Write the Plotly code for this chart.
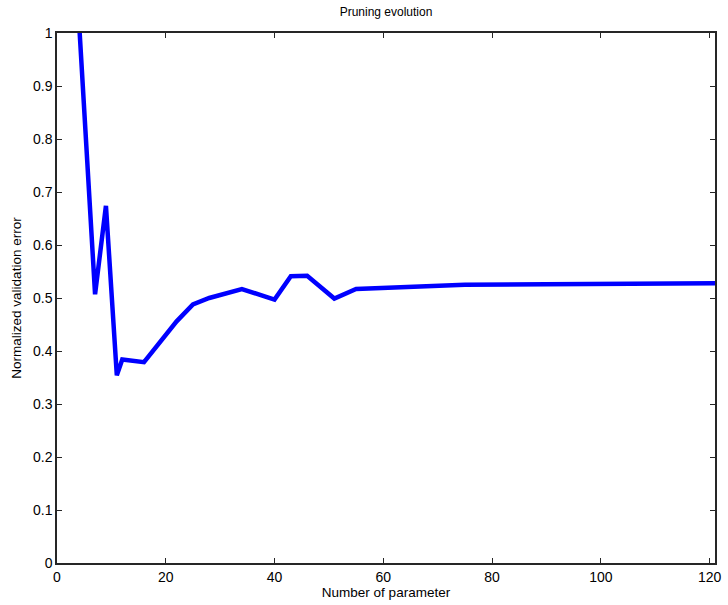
import plotly.graph_objects as go

params = [4, 7, 9, 11, 12, 16, 22, 25, 28, 34, 40, 43, 46, 51, 55, 60, 67, 75, 90, 105, 121]
errors = [1.03, 0.507, 0.674, 0.354, 0.384, 0.379, 0.456, 0.488, 0.500, 0.517, 0.497, 0.541, 0.542,
          0.499, 0.517, 0.519, 0.522, 0.525, 0.526, 0.527, 0.528]

x_ticks = [0, 20, 40, 60, 80, 100, 120]
y_ticks = [0, 0.1, 0.2, 0.3, 0.4, 0.5, 0.6, 0.7, 0.8, 0.9, 1]

FONT = "Liberation Sans"

fig = go.Figure()
fig.add_trace(go.Scatter(x=params, y=errors, mode="lines",
                         line=dict(color="#0000ff", width=4.5)))

axis_common = dict(showline=True, linecolor="#262626", linewidth=1.5, mirror="ticks",
                   ticks="inside", ticklen=5, tickcolor="#262626", showgrid=False,
                   zeroline=False, tickfont=dict(family=FONT, size=14, color="#000"))

fig.update_layout(
    width=728, height=605,
    margin=dict(l=57, r=7, t=33, b=42),
    plot_bgcolor="white", paper_bgcolor="white",
    showlegend=False,
    title=dict(text="Pruning evolution", x=0.5, xref="paper", xanchor="center",
               y=1 - 12 / 605, yanchor="middle",
               font=dict(family=FONT, size=12, color="#000")),
    xaxis=dict(range=[0, 121], tickvals=x_ticks, ticktext=[str(v) for v in x_ticks],
               title=dict(text="Number of parameter", standoff=3,
                          font=dict(family=FONT, size=13.5, color="#000")),
               **axis_common),
    yaxis=dict(range=[0, 1], tickvals=y_ticks, ticktext=[("%g" % v) for v in y_ticks],
               title=dict(text="Normalized validation error", standoff=8,
                          font=dict(family=FONT, size=13.5, color="#000")),
               **axis_common),
)

fig.write_html("out.html")
